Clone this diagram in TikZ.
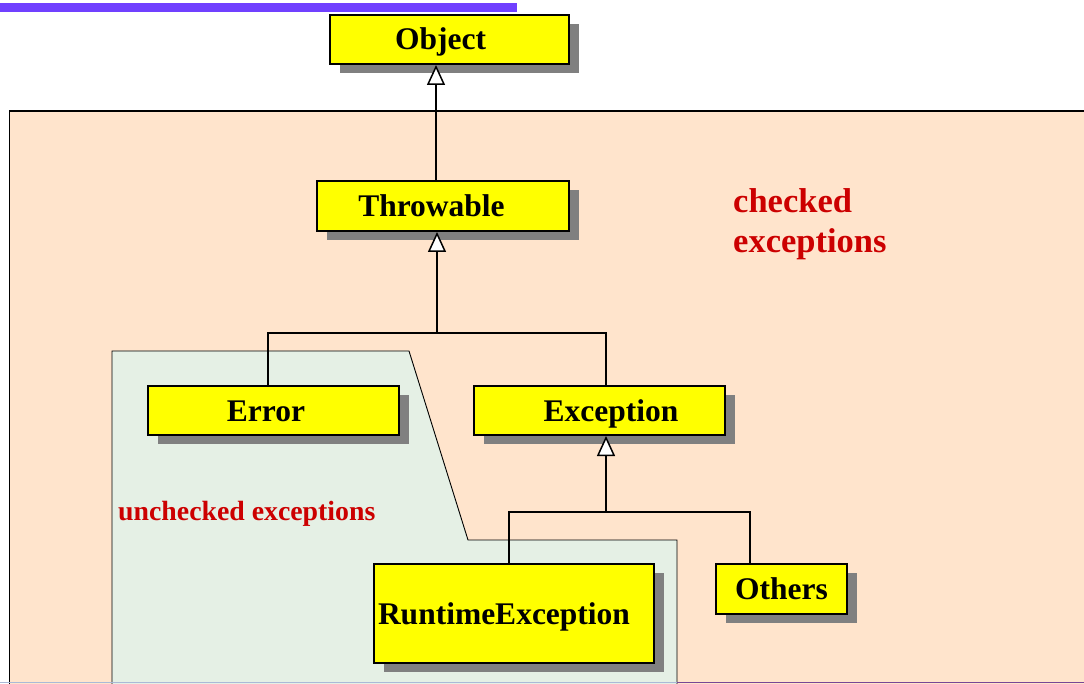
\documentclass[tikz,border=0pt]{standalone}
\usepackage{fontspec}
\setmainfont{Liberation Serif}
\usetikzlibrary{arrows.meta,shadows}
\definecolor{barpurple}{RGB}{112,64,255}
\definecolor{peach}{RGB}{255,228,204}
\definecolor{palegreen}{RGB}{229,240,229}
\definecolor{boxyellow}{RGB}{255,255,0}
\definecolor{labelred}{RGB}{204,0,0}
\definecolor{linesteel}{RGB}{170,185,215}
\definecolor{lineviolet}{RGB}{120,70,150}
\tikzset{
  classbox/.style={draw=black, line width=2pt, fill=boxyellow, inner sep=0pt,
    text height=22pt, text depth=1pt,
    font=\bfseries\fontsize{31.5}{36}\selectfont,
    drop shadow={shadow xshift=10pt, shadow yshift=-9pt, fill=black!50, opacity=1}},
  conn/.style={draw=black, line width=1.5pt},
  inh/.style={conn, -{Triangle[length=20pt,width=18pt,fill=white,line width=1.5pt]}},
  redlabel/.style={text=labelred, inner sep=0pt, font=\bfseries}
}
\begin{document}
\begin{tikzpicture}[x=1pt,y=-1pt]
\useasboundingbox (0,0) rectangle (1084,684);
% top bar
\fill[barpurple] (0,3) rectangle (517,12);
% checked region
\fill[peach] (9,111) rectangle (1090,690);
\draw[line width=1.6pt] (1090,111) -- (9,111);
\draw[line width=0.8pt] (9,111) -- (9,690);
% unchecked region
\filldraw[fill=palegreen, draw=black, line width=0.9pt]
  (112,690) -- (112,351) -- (409,351) -- (468,540) -- (677,540) -- (677,690);
% bottom rule
\draw[linesteel, line width=1.5pt] (0,682.5) -- (677,682.5);
\draw[lineviolet, line width=1.2pt] (677,682.5) -- (1084,682.5);

% classes
\node[classbox, minimum width=239pt, minimum height=49pt] (obj) at (449.5,39.5) {Object\kern18pt\relax};
\node[classbox, minimum width=252pt, minimum height=50pt] (thr) at (443,206) {Throwable\kern23pt\relax};
\node[classbox, minimum width=251pt, minimum height=49pt] (err) at (273.5,410.5) {Error\kern15pt\relax};
\node[classbox, minimum width=251pt, minimum height=49pt] (exc) at (599.5,410.5) {\kern23pt\relax Exception};
\node[classbox, minimum width=280pt, minimum height=99pt, text width=272pt, inner xsep=4pt, align=left] (rte) at (514,613.5) {RuntimeException};
\node[classbox, minimum width=131pt, minimum height=50pt] (oth) at (781.5,589) {Others};

% junction coordinates
\coordinate (s1) at (436,0);
\coordinate (s2) at (437,333);
\coordinate (e1) at (268,0);
\coordinate (e2) at (606,0);
\coordinate (s3) at (606,512);
\coordinate (r1) at (509,0);
\coordinate (o1) at (750,0);

% connectors
\draw[inh] (thr.north -| s1) -- (obj.south -| s1);
\draw[inh] (s2) -- (thr.south -| s2);
\draw[conn] (err.north -| e1) |- (s2) -| (exc.north -| e2);
\draw[inh] (s3) -- (exc.south -| s3);
\draw[conn] (rte.north -| r1) |- (s3) -| (oth.north -| o1);

% region labels
\node[redlabel, anchor=west, align=left, font=\bfseries\fontsize{34.5}{40}\selectfont] (chk) at (733,224) {checked\\exceptions};
\node[redlabel, anchor=west, font=\bfseries\fontsize{27.8}{32}\selectfont] (unchk) at (118,514) {unchecked exceptions};
\end{tikzpicture}
\end{document}
